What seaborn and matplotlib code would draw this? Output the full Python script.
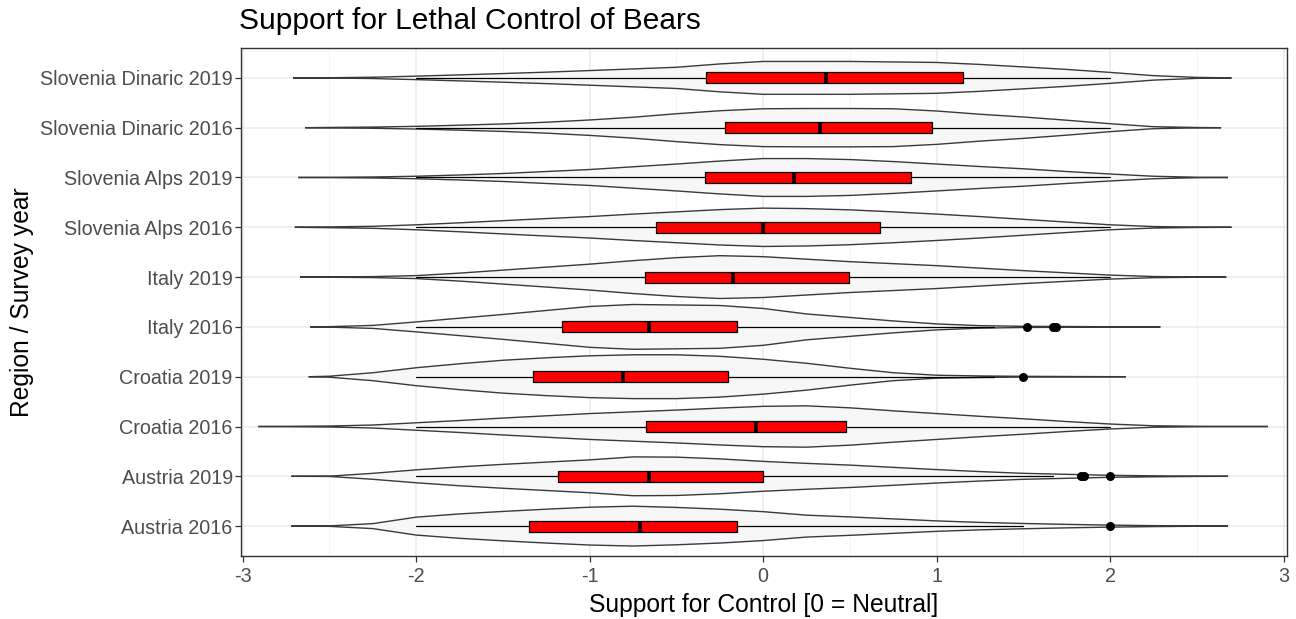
import numpy as np
import matplotlib
matplotlib.use("Agg")
import matplotlib.pyplot as plt
import pandas as pd
import seaborn as sns

# ---------------- data ----------------
groups = ["Austria 2016", "Austria 2019", "Croatia 2016", "Croatia 2019",
          "Italy 2016", "Italy 2019", "Slovenia Alps 2016", "Slovenia Alps 2019",
          "Slovenia Dinaric 2016", "Slovenia Dinaric 2019"]

# violin half-widths (category units) read at these support values
grid_x = [-2.5, -2.25, -2.0, -1.75, -1.5, -1.25, -1.0, -0.75, -0.5, -0.25, 0.0,
          0.25, 0.5, 0.75, 1.0, 1.25, 1.5, 1.75, 2.0, 2.25, 2.5]
dens_austria_2016 = [0.005, 0.05, 0.18, 0.245, 0.295, 0.34, 0.38, 0.40, 0.375, 0.34, 0.29,
                     0.22, 0.185, 0.145, 0.105, 0.075, 0.053, 0.035, 0.02, 0.01, 0.003]
dens_austria_2019 = [0.003, 0.06, 0.13, 0.19, 0.24, 0.285, 0.33, 0.39, 0.385, 0.35, 0.30,
                     0.26, 0.225, 0.18, 0.135, 0.095, 0.06, 0.04, 0.02, 0.01, 0.003]
dens_croatia_2016 = [0.01, 0.03, 0.075, 0.12, 0.17, 0.215, 0.26, 0.295, 0.33, 0.37, 0.405,
                     0.415, 0.375, 0.315, 0.26, 0.205, 0.155, 0.10, 0.05, 0.015, 0.005]
dens_croatia_2019 = [0.01, 0.08, 0.18, 0.26, 0.33, 0.38, 0.42, 0.44, 0.44, 0.41, 0.35,
                     0.27, 0.17, 0.08, 0.03, 0.015, 0.008, 0.004, 0.001, 0.0, 0.0]
dens_italy_2016 = [0.005, 0.03, 0.10, 0.175, 0.25, 0.33, 0.41, 0.45, 0.44, 0.43, 0.37,
                   0.26, 0.19, 0.12, 0.06, 0.025, 0.012, 0.008, 0.003, 0.001, 0.0]
dens_italy_2019 = [0.003, 0.01, 0.03, 0.08, 0.14, 0.20, 0.26, 0.33, 0.39, 0.43, 0.41,
                   0.36, 0.31, 0.27, 0.23, 0.18, 0.13, 0.085, 0.04, 0.012, 0.003]
dens_slo_alps_2016 = [0.008, 0.02, 0.05, 0.09, 0.133, 0.175, 0.215, 0.265, 0.31, 0.355, 0.385,
                      0.375, 0.35, 0.31, 0.265, 0.215, 0.16, 0.105, 0.05, 0.015, 0.004]
dens_slo_alps_2019 = [0.003, 0.01, 0.025, 0.05, 0.08, 0.12, 0.16, 0.215, 0.27, 0.33, 0.38,
                      0.38, 0.36, 0.32, 0.27, 0.22, 0.175, 0.12, 0.07, 0.025, 0.005]
dens_slo_din_2016 = [0.005, 0.012, 0.027, 0.05, 0.075, 0.11, 0.155, 0.21, 0.28, 0.34, 0.38,
                     0.385, 0.385, 0.38, 0.335, 0.27, 0.215, 0.15, 0.08, 0.02, 0.004]
dens_slo_din_2019 = [0.003, 0.013, 0.035, 0.06, 0.087, 0.115, 0.147, 0.18, 0.213, 0.28, 0.33,
                     0.33, 0.33, 0.32, 0.31, 0.27, 0.22, 0.17, 0.11, 0.045, 0.01]
densities = [dens_austria_2016, dens_austria_2019, dens_croatia_2016, dens_croatia_2019,
             dens_italy_2016, dens_italy_2019, dens_slo_alps_2016, dens_slo_alps_2019,
             dens_slo_din_2016, dens_slo_din_2019]

violin_lo = [-2.72, -2.72, -2.91, -2.62, -2.61, -2.67, -2.70, -2.68, -2.64, -2.71]
violin_hi = [2.68, 2.68, 2.91, 2.09, 2.29, 2.67, 2.70, 2.68, 2.64, 2.70]

# boxplot statistics
q1 = [-1.35, -1.18, -0.677, -1.324, -1.16, -0.68, -0.615, -0.338, -0.217, -0.327]
median = [-0.711, -0.659, -0.042, -0.807, -0.657, -0.173, 0.0, 0.179, 0.33, 0.36]
q3 = [-0.153, 0.0, 0.48, -0.202, -0.15, 0.497, 0.672, 0.851, 0.972, 1.152]
whisker_lo = [-2.0, -2.0, -2.0, -2.0, -2.0, -2.0, -2.0, -2.0, -2.0, -2.0]
whisker_hi = [1.5, 1.67, 2.0, 1.33, 1.33, 2.0, 2.0, 2.0, 2.0, 2.0]

outlier_group = ["Austria 2016", "Austria 2019", "Austria 2019", "Austria 2019",
                 "Croatia 2019", "Italy 2016", "Italy 2016", "Italy 2016"]
outlier_value = [2.0, 1.83, 1.85, 2.0, 1.50, 1.52, 1.67, 1.69]

x_ticks = [-3, -2, -1, 0, 1, 2, 3]

# ---------------- style ----------------
sns.set_theme(style="white")
plt.rcParams["font.family"] = ["Liberation Sans", "DejaVu Sans"]

W, H = 1296, 619
fig = plt.figure(figsize=(W / 100, H / 100), dpi=100)
ax = fig.add_axes([241 / W, 1 - 556 / H, (1287 - 241) / W, (556 - 48) / H])

pos = {g: i + 1 for i, g in enumerate(groups)}
gx = np.array(grid_x)

# violins
for i, g in enumerate(groups):
    y0 = pos[g]
    d = np.array(densities[i])
    keep = (gx > violin_lo[i]) & (gx < violin_hi[i])
    xs = np.concatenate([[violin_lo[i]], gx[keep], [violin_hi[i]]])
    hw = np.concatenate([[0.0], d[keep], [0.0]])
    px = np.concatenate([xs, xs[::-1]])
    py = np.concatenate([y0 + hw, (y0 - hw)[::-1]])
    ax.fill(px, py, facecolor="#F7F7F7", edgecolor="#3a3a3a", linewidth=1.0, zorder=2)

# boxplots
stats = []
for i, g in enumerate(groups):
    stats.append(dict(med=median[i], q1=q1[i], q3=q3[i], whislo=whisker_lo[i],
                      whishi=whisker_hi[i], fliers=[]))
ax.bxp(stats, positions=[pos[g] for g in groups], widths=0.22, orientation="horizontal",
       patch_artist=True, showcaps=False, showfliers=False, manage_ticks=False,
       boxprops=dict(facecolor="#FF0000", edgecolor="black", linewidth=0.9),
       medianprops=dict(color="black", linewidth=2.6, solid_capstyle="butt"),
       whiskerprops=dict(color="black", linewidth=0.9), zorder=3)

# outliers
odf = pd.DataFrame({"value": outlier_value, "pos": [pos[g] for g in outlier_group]})
sns.scatterplot(data=odf, x="value", y="pos", ax=ax, color="black", s=42,
                edgecolor="black", linewidth=0, zorder=4, legend=False)

# axes
ax.set_xlim(-3.01, 3.02)
ax.set_ylim(0.4, 10.6)
ax.set_xticks(x_ticks)
ax.set_xticklabels([str(t).replace("\u2212", "-") for t in x_ticks])
ax.set_xticks([-2.5, -1.5, -0.5, 0.5, 1.5, 2.5], minor=True)
ax.set_yticks([pos[g] for g in groups])
ax.set_yticklabels(groups)
ax.grid(True, which="major", color="#EBEBEB", linewidth=1.1, zorder=0)
ax.grid(True, which="minor", axis="x", color="#F2F2F2", linewidth=0.6, zorder=0)
ax.set_axisbelow(True)
for s in ax.spines.values():
    s.set_color("#333333")
    s.set_linewidth(1.0)
ax.tick_params(axis="both", which="major", direction="out", length=4, width=0.9,
               color="#333333", labelcolor="#4D4D4D", labelsize=14.2, pad=2,
               bottom=True, left=True)
ax.tick_params(axis="x", which="major", pad=4)
ax.tick_params(axis="both", which="minor", length=0)
ax.set_xlabel("Support for Control [0 = Neutral]", fontsize=17.7, color="black", va="center")
ax.set_ylabel("Region / Survey year", fontsize=17.7, color="black", va="center")
ax.xaxis.set_label_coords(0.5, (556 - 605) / 508)
ax.yaxis.set_label_coords((22 - 241) / 1046, 0.5)
fig.text(239 / W, 1 - 21 / H, "Support for Lethal Control of Bears", fontsize=21.5,
         color="black", ha="left", va="center")

fig.savefig("out.png", dpi=100)
